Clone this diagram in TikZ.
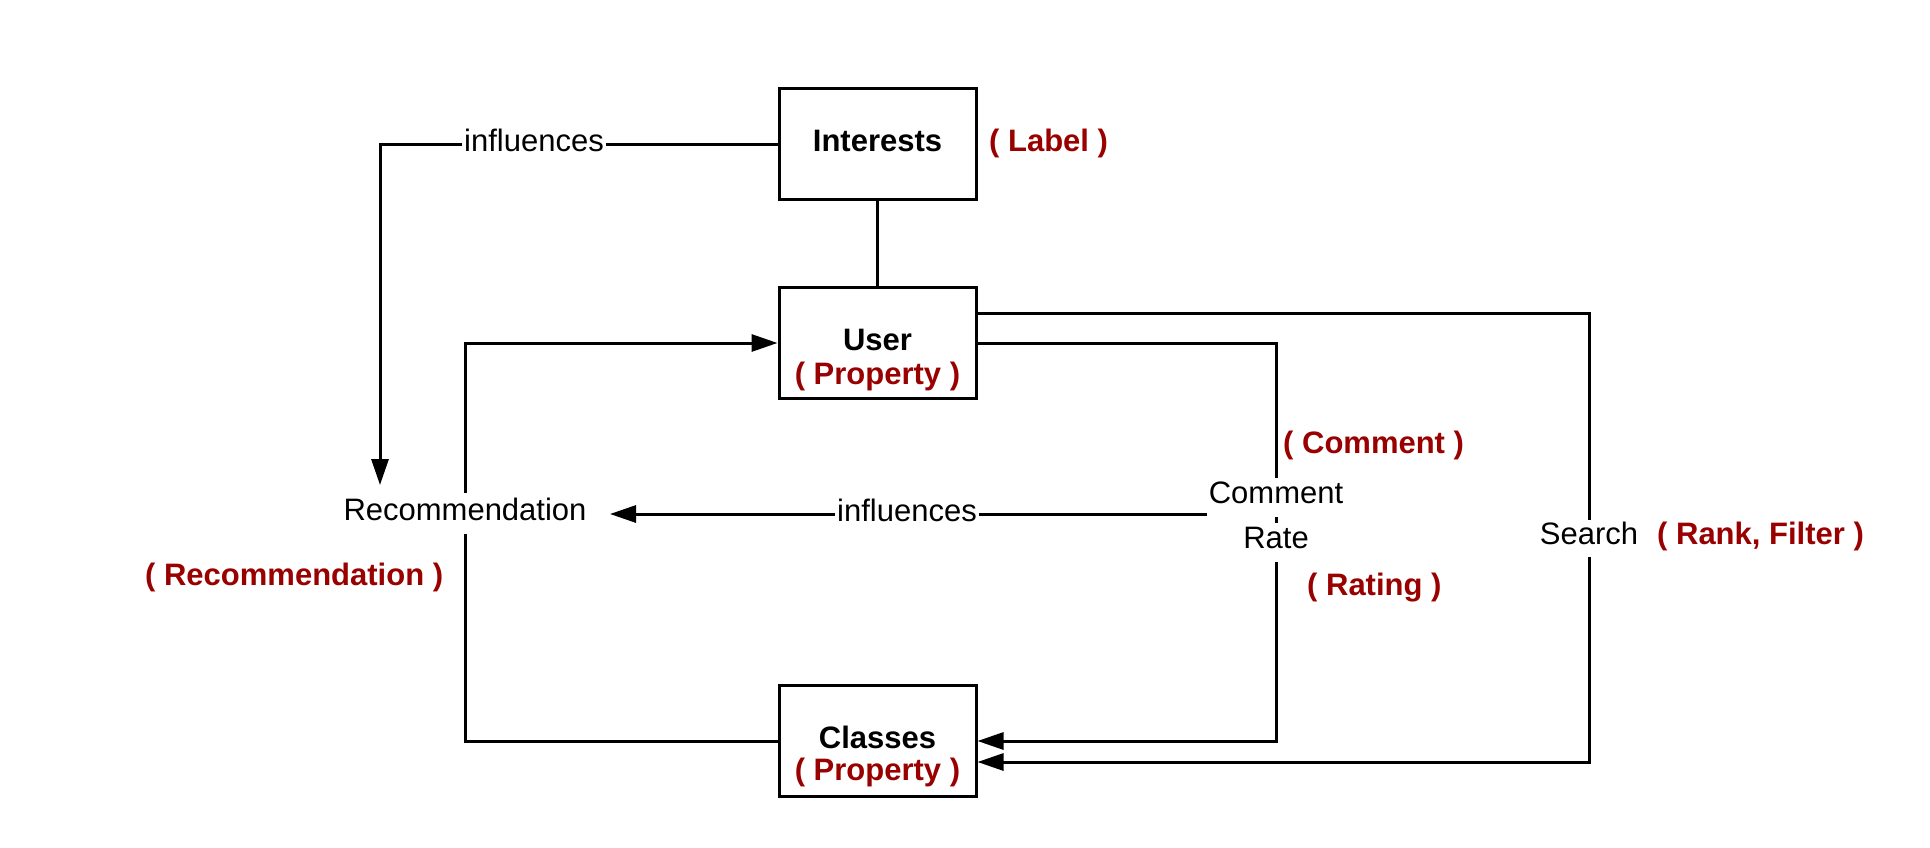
\documentclass[tikz,border=0pt]{standalone}
\usepackage{fontspec}
\setmainfont{Liberation Sans}
\usetikzlibrary{arrows.meta}
\definecolor{dred}{RGB}{153,0,0}
\pgfdeclarelayer{bg}
\pgfsetlayers{bg,main}
\begin{document}
\begin{tikzpicture}[x=1pt,y=-1pt,
  box/.style={draw,line width=3pt,minimum width=197pt,minimum height=111pt,inner sep=0pt},
  txt/.style={font=\fontsize{31}{34}\selectfont,inner sep=0pt,anchor=base},
  btxt/.style={txt,font=\fontsize{31}{34}\selectfont\bfseries},
  rtxt/.style={btxt,text=dred,anchor=base west},
  lbl/.style={txt,fill=white,inner xsep=2pt,inner ysep=0pt,text height=25pt,text depth=14pt},
  conn/.style={line width=3pt},
  arr/.style={conn,-{Triangle[length=26pt,width=17pt]}}]
\useasboundingbox (0,0) rectangle (1930,848);

% boxes
\node[box] (int) at (877.5,144.3) {};
\node[box] (user) at (877.5,343) {};
\node[box] (cls) at (877.5,741.3) {};

% box texts
\node[btxt] (intT) at (877.5,151.7) {Interests};
\node[btxt] (userT) at (877.5,350) {User};
\node[btxt,text=dred] (userP) at (877.5,384) {( Property )};
\node[btxt] (clsT) at (877.5,748) {Classes};
\node[btxt,text=dred] (clsP) at (877.5,780) {( Property )};

% plain labels (white background to break the connectors)
\node[lbl,text height=27pt] (rec) at (465,520) {Recommendation};
\node[lbl,text height=24pt,text depth=9pt] (inf1) at (534,151) {influences};
\node[lbl,text height=24pt,text depth=2pt] (inf2) at (907,521) {influences};
\node[lbl] (cmt) at (1276,503) {Comment};
\node[lbl] (rate) at (1276,548) {Rate};
\node[lbl,text height=24pt,text depth=13pt] (srch) at (1589,544) {Search};

% red annotations
\node[rtxt] (lab) at (989,151.7) {( Label )};
\node[rtxt] (cmtR) at (1283,453) {( Comment )};
\node[rtxt] (ratR) at (1307,595) {( Rating )};
\node[rtxt] (rfR) at (1657,544) {( Rank, Filter )};
\node[rtxt] (recR) at (145,585) {( Recommendation )};

% free ends
\coordinate (recIn) at (380,485);
\coordinate (recE) at (610,514);
\coordinate (c1) at (1276,741);
\coordinate (s2) at (1589,762);

\begin{pgfonlayer}{bg}
\fill[white] (0,0) rectangle (1930,848);
\draw[conn] (int.south) -- (user.north);
\draw[arr] (int.west) -| (recIn);
\draw[arr] (rec.north) |- (user.west);
\draw[conn] (rec.south) |- (cls.west);
\draw[arr] (cmt.west |- recE) -- (recE);
\draw[arr] (user.east) -| (c1) -- (cls.east |- c1);
\draw[arr] ([yshift=30pt]user.east) -| (s2) -- (cls.east |- s2);
\end{pgfonlayer}
\end{tikzpicture}
\end{document}
